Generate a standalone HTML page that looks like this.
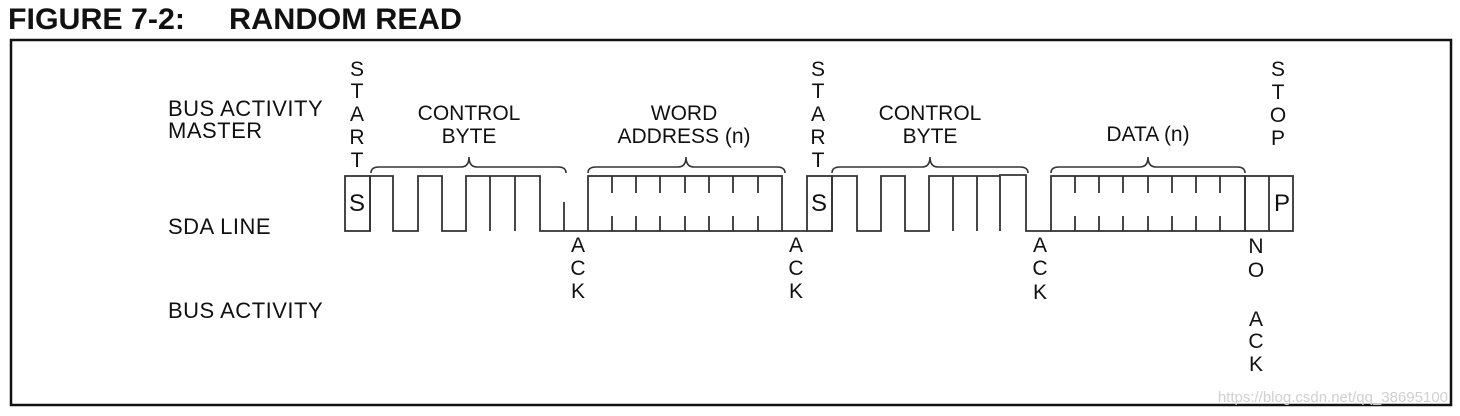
<!DOCTYPE html>
<html><head><meta charset="utf-8"><style>
html,body{margin:0;padding:0;background:#fff;width:1460px;height:416px;overflow:hidden}
svg{display:block}
text{font-family:"Liberation Sans",Arial,sans-serif;fill:#111}
</style></head><body>
<svg width="1460" height="416" viewBox="0 0 1460 416" xmlns="http://www.w3.org/2000/svg">
<text x="8" y="29" font-size="30" font-weight="bold" fill="#000" textLength="177" lengthAdjust="spacingAndGlyphs">FIGURE 7-2:</text>
<text x="229" y="29" font-size="30" font-weight="bold" fill="#000" textLength="233" lengthAdjust="spacingAndGlyphs">RANDOM READ</text>
<rect x="11" y="40" width="1440" height="365" fill="none" stroke="#111" stroke-width="2.5"/>

<g font-size="22" letter-spacing="0.5">
<text x="168" y="116">BUS ACTIVITY</text>
<text x="168" y="138">MASTER</text>
<text x="168" y="234">SDA LINE</text>
<text x="168" y="318">BUS ACTIVITY</text>
</g>

<g font-size="21" text-anchor="middle">
<text x="469" y="120">CONTROL</text><text x="469" y="143">BYTE</text>
<text x="684" y="120">WORD</text><text x="684" y="143">ADDRESS (n)</text>
<text x="930" y="120">CONTROL</text><text x="930" y="143">BYTE</text>
<text x="1148" y="141">DATA (n)</text>
</g>

<g font-size="21" text-anchor="middle">
<text x="357" y="76">S</text><text x="357" y="98">T</text><text x="357" y="121">A</text><text x="357" y="144">R</text><text x="357" y="167">T</text>
<text x="818" y="76">S</text><text x="818" y="98">T</text><text x="818" y="121">A</text><text x="818" y="144">R</text><text x="818" y="167">T</text>
<text x="1278" y="76">S</text><text x="1278" y="99">T</text><text x="1278" y="122">O</text><text x="1278" y="145">P</text>
<text x="578" y="252">A</text><text x="578" y="275">C</text><text x="578" y="298">K</text>
<text x="796" y="252">A</text><text x="796" y="275">C</text><text x="796" y="298">K</text>
<text x="1040" y="252">A</text><text x="1040" y="275">C</text><text x="1040" y="299">K</text>
<text x="1256" y="253">N</text><text x="1256" y="277">O</text>
<text x="1256" y="326">A</text><text x="1256" y="348">C</text><text x="1256" y="371">K</text>
</g>

<g fill="none" stroke="#333" stroke-width="1.6">
<path d="M371,173 Q371,167 379,167 L461,167 Q469,167 469,157 Q469,167 477,167 L558,167 Q566,167 566,173"/>
<path d="M588,173 Q588,167 596,167 L678,167 Q686,167 686,157 Q686,167 694,167 L777,167 Q785,167 785,173"/>
<path d="M832,173 Q832,167 840,167 L922,167 Q930,167 930,157 Q930,167 938,167 L1020,167 Q1028,167 1028,173"/>
<path d="M1051,173 Q1051,167 1059,167 L1140,167 Q1148,167 1148,157 Q1148,167 1156,167 L1237,167 Q1245,167 1245,173"/>
</g>

<g fill="none" stroke="#333" stroke-width="1.8">
<rect x="345" y="176" width="25" height="55"/>
<path d="M370,231 L370,176 L393,176 L393,231 L418,231 L418,176 L442,176 L442,231 L466,231 L466,176 L540,176 L540,231 L588,231"/>
<path d="M490,176 V231 M515,176 V231 M564,202 V231"/>
<rect x="588" y="176" width="194" height="55"/>
<path d="M612,176V193M636,176V193M660,176V193M685,176V193M709,176V193M733,176V193M758,176V193"/>
<path d="M612,216V231M636,216V231M660,216V231M685,216V231M709,216V231M733,216V231M758,216V231"/>
<path d="M782,231 L807,231"/>
<rect x="807" y="176" width="25" height="55"/>
<path d="M832,231 L832,176 L857,176 L857,231 L881,231 L881,176 L905,176 L905,231 L929,231 L929,176 L1000,176 M999,175 L1026,175 L1026,231 L1051,231"/>
<path d="M953,176V231M977,176V231M1000,176V231"/>
<rect x="1051" y="176" width="194" height="55"/>
<path d="M1075,176V193M1099,176V193M1123,176V193M1148,176V193M1172,176V193M1196,176V193M1220,176V193"/>
<path d="M1075,216V231M1099,216V231M1123,216V231M1148,216V231M1172,216V231M1196,216V231M1220,216V231"/>
<rect x="1245" y="176" width="48" height="55"/>
<path d="M1269,176V231"/>
</g>
<g font-size="24" text-anchor="middle">
<text x="357" y="211">S</text>
<text x="819" y="211">S</text>
<text x="1282" y="211">P</text>
</g>
<text x="1448" y="402" font-size="15" text-anchor="end" style="fill:#d0d0d0">https://blog.csdn.net/qq_38695100</text>
</svg>
</body></html>
